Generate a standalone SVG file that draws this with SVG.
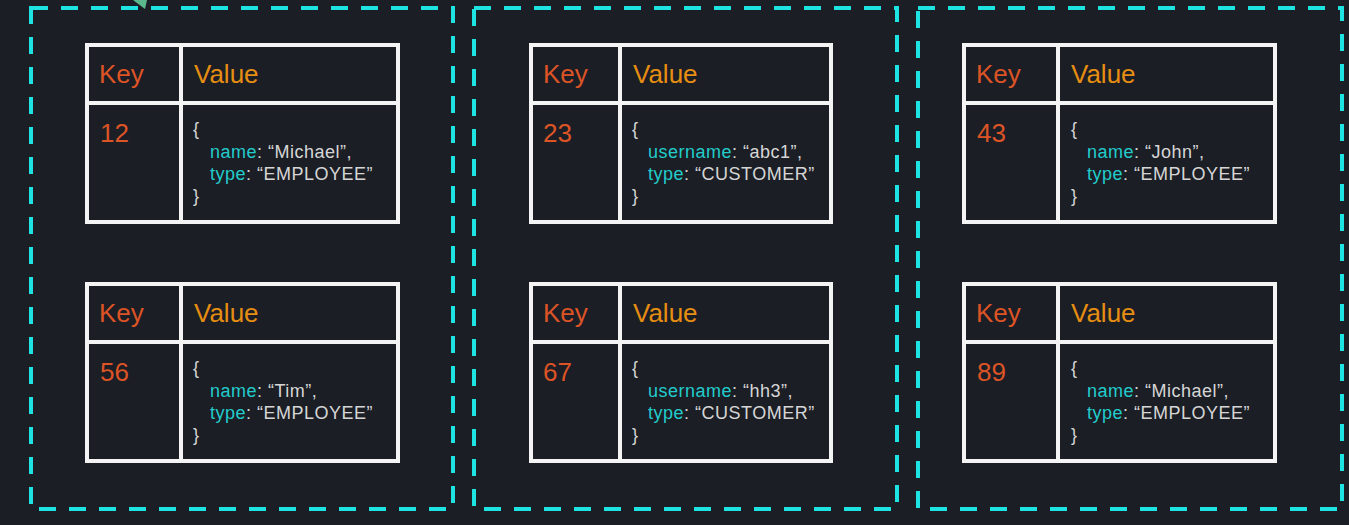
<svg xmlns="http://www.w3.org/2000/svg" width="1349" height="525" viewBox="0 0 1349 525">
<style>
.bg{fill:#1b1e25}
.zone{fill:none;stroke:#1ee3e3;stroke-width:4;stroke-dasharray:17 13}
.tb{fill:none;stroke:#f4f4f4;stroke-width:4}
.k{font-family:"Liberation Sans",Arial,sans-serif;font-size:26px;fill:#dc5426}
.v{font-family:"Liberation Sans",Arial,sans-serif;font-size:26px;fill:#e68e12}
.c{font-family:"Liberation Sans",Arial,sans-serif;font-size:18px;letter-spacing:0.5px;fill:#d6d6d6}
.f{fill:#22cccc}
</style>
<rect class="bg" x="0" y="0" width="1349" height="525"/>
<polygon points="133,0 147,0 145,9" fill="#5cb88c"/>
<g id="zones">
<rect class="zone" x="31" y="8" width="422" height="501"/>
<rect class="zone" x="474" y="8" width="423" height="501"/>
<rect class="zone" x="918" y="8" width="424" height="501"/>
</g>
<g id="connectors"></g>
<g id="t12">
<rect class="tb" x="87" y="45" width="311" height="177"/>
<line class="tb" x1="181" y1="45" x2="181" y2="222"/>
<line class="tb" x1="87" y1="103" x2="398" y2="103"/>
<text class="k" x="99" y="83">Key</text><text class="v" x="194" y="83">Value</text>
<text class="k" x="100" y="142">12</text>
<text class="c" x="193" y="135">{</text>
<text class="c" x="210" y="157.5"><tspan class="f">name</tspan>: “Michael”,</text>
<text class="c" x="210" y="180"><tspan class="f">type</tspan>: “EMPLOYEE”</text>
<text class="c" x="193" y="202">}</text>
</g>
<g id="t56">
<rect class="tb" x="87" y="284" width="311" height="177"/>
<line class="tb" x1="181" y1="284" x2="181" y2="461"/>
<line class="tb" x1="87" y1="342" x2="398" y2="342"/>
<text class="k" x="99" y="322">Key</text><text class="v" x="194" y="322">Value</text>
<text class="k" x="100" y="381">56</text>
<text class="c" x="193" y="374">{</text>
<text class="c" x="210" y="396.5"><tspan class="f">name</tspan>: “Tim”,</text>
<text class="c" x="210" y="419"><tspan class="f">type</tspan>: “EMPLOYEE”</text>
<text class="c" x="193" y="441">}</text>
</g>
<g id="t23">
<rect class="tb" x="531" y="45" width="300" height="177"/>
<line class="tb" x1="620" y1="45" x2="620" y2="222"/>
<line class="tb" x1="531" y1="103" x2="831" y2="103"/>
<text class="k" x="543" y="83">Key</text><text class="v" x="633" y="83">Value</text>
<text class="k" x="543" y="142">23</text>
<text class="c" x="632" y="135">{</text>
<text class="c" x="648" y="157.5"><tspan class="f">username</tspan>: “abc1”,</text>
<text class="c" x="648" y="180"><tspan class="f">type</tspan>: “CUSTOMER”</text>
<text class="c" x="632" y="202">}</text>
</g>
<g id="t67">
<rect class="tb" x="531" y="284" width="300" height="177"/>
<line class="tb" x1="620" y1="284" x2="620" y2="461"/>
<line class="tb" x1="531" y1="342" x2="831" y2="342"/>
<text class="k" x="543" y="322">Key</text><text class="v" x="633" y="322">Value</text>
<text class="k" x="543" y="381">67</text>
<text class="c" x="632" y="374">{</text>
<text class="c" x="648" y="396.5"><tspan class="f">username</tspan>: “hh3”,</text>
<text class="c" x="648" y="419"><tspan class="f">type</tspan>: “CUSTOMER”</text>
<text class="c" x="632" y="441">}</text>
</g>
<g id="t43">
<rect class="tb" x="964" y="45" width="311" height="177"/>
<line class="tb" x1="1058" y1="45" x2="1058" y2="222"/>
<line class="tb" x1="964" y1="103" x2="1275" y2="103"/>
<text class="k" x="976" y="83">Key</text><text class="v" x="1071" y="83">Value</text>
<text class="k" x="977" y="142">43</text>
<text class="c" x="1071" y="135">{</text>
<text class="c" x="1087" y="157.5"><tspan class="f">name</tspan>: “John”,</text>
<text class="c" x="1087" y="180"><tspan class="f">type</tspan>: “EMPLOYEE”</text>
<text class="c" x="1071" y="202">}</text>
</g>
<g id="t89">
<rect class="tb" x="964" y="284" width="311" height="177"/>
<line class="tb" x1="1058" y1="284" x2="1058" y2="461"/>
<line class="tb" x1="964" y1="342" x2="1275" y2="342"/>
<text class="k" x="976" y="322">Key</text><text class="v" x="1071" y="322">Value</text>
<text class="k" x="977" y="381">89</text>
<text class="c" x="1071" y="374">{</text>
<text class="c" x="1087" y="396.5"><tspan class="f">name</tspan>: “Michael”,</text>
<text class="c" x="1087" y="419"><tspan class="f">type</tspan>: “EMPLOYEE”</text>
<text class="c" x="1071" y="441">}</text>
</g>
</svg>
